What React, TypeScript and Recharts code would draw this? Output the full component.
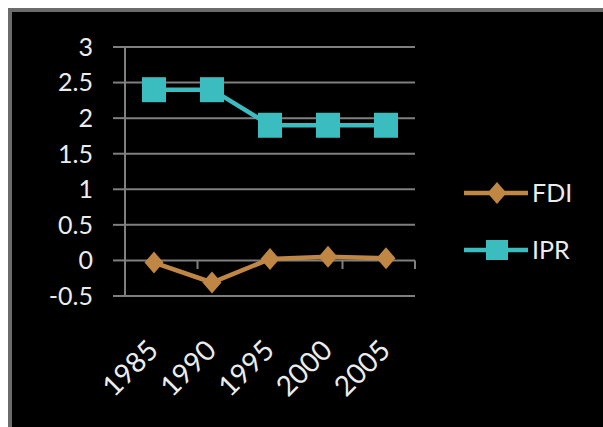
import React from 'react';
import { LineChart, Line, XAxis, YAxis, CartesianGrid, Legend, ReferenceLine } from 'recharts';

const years = ['1985', '1990', '1995', '2000', '2005'];
const fdiValues = [-0.03, -0.31, 0.02, 0.05, 0.03];
const iprValues = [2.4, 2.4, 1.9, 1.9, 1.9];
const yTicks = [-0.5, 0, 0.5, 1, 1.5, 2, 2.5, 3];
// category boundaries, where Excel draws the small tick marks on the zero line
const boundaries = [1, 2, 3, 4, 5];

const FDI_COLOR = '#bf8644';
const IPR_COLOR = '#3bbcbe';
const GRID = '#7f7f7f';
const TEXT = '#ececec';
const FONT = 'Lato, "Open Sans", sans-serif';

const data = years.map((year, i) => ({ year, FDI: fdiValues[i], IPR: iprValues[i] }));

const Diamond = ({ cx, cy, fill }: any) => {
  if (cx == null || cy == null) return null;
  return <path d={`M${cx},${cy - 11} L${cx + 9.5},${cy} L${cx},${cy + 11} L${cx - 9.5},${cy} Z`} fill={fill} />;
};

const Square = ({ cx, cy, fill }: any) => {
  if (cx == null || cy == null) return null;
  return <rect x={cx - 12} y={cy - 12.5} width={24} height={25} fill={fill} />;
};

const RotatedTick = ({ x, y, payload }: any) => (
  <g transform={`translate(${x + 6},${y + 48})`}>
    <text textAnchor="end" transform="rotate(-45)" fill={TEXT} fontSize={28} fontFamily={FONT}>
      {payload.value}
    </text>
  </g>
);

const series = [
  { name: 'FDI', color: FDI_COLOR, marker: 'diamond' },
  { name: 'IPR', color: IPR_COLOR, marker: 'square' },
];

const LegendContent = () => (
  <div style={{ fontFamily: FONT }}>
    {series.map((s) => (
      <div key={s.name} style={{ display: 'flex', alignItems: 'center', height: 57 }}>
        <svg width={66} height={30}>
          <line x1={1} y1={15} x2={65} y2={15} stroke={s.color} strokeWidth={4.5} />
          {s.marker === 'diamond' ? (
            <Diamond cx={34} cy={15} fill={s.color} />
          ) : (
            <rect x={23} y={5} width={22} height={20} fill={s.color} />
          )}
        </svg>
        <span style={{ color: TEXT, fontSize: 25, marginLeft: 3, lineHeight: 1 }}>{s.name}</span>
      </div>
    ))}
  </div>
);

export default function App() {
  return (
    <div
      style={{
        position: 'absolute',
        left: 8,
        top: 8,
        width: 591,
        height: 415,
        background: '#000',
        borderTop: '4px solid #6b6b6b',
        borderLeft: '4px solid #6b6b6b',
      }}
    >
      <LineChart
        width={591}
        height={415}
        data={data}
        margin={{ top: 35, right: 188, bottom: 31, left: 0 }}
        style={{ fontFamily: FONT }}
      >
        <CartesianGrid vertical={false} stroke={GRID} strokeWidth={2} />
        <XAxis
          dataKey="year"
          scale="band"
          interval={0}
          axisLine={false}
          tickLine={false}
          height={100}
          tick={<RotatedTick />}
        />
        <XAxis xAxisId="b" type="number" domain={[0, 5]} hide />
        <YAxis
          domain={[-0.5, 3]}
          ticks={yTicks}
          interval={0}
          width={113}
          tickSize={12}
          tickMargin={20}
          axisLine={{ stroke: GRID, strokeWidth: 2 }}
          tickLine={{ stroke: GRID, strokeWidth: 2 }}
          tick={{ fill: TEXT, fontSize: 25, fontFamily: FONT }}
        />
        {boundaries.map((b) => (
          <ReferenceLine
            key={b}
            xAxisId="b"
            segment={[{ x: b, y: 0 }, { x: b, y: -0.12 }]}
            stroke={GRID}
            strokeWidth={2}
          />
        ))}
        <Legend
          layout="horizontal"
          verticalAlign="middle"
          content={<LegendContent />}
          wrapperStyle={{ left: 451, top: 152, width: 140 }}
        />
        <Line
          dataKey="FDI"
          stroke={FDI_COLOR}
          strokeWidth={4.5}
          dot={<Diamond fill={FDI_COLOR} />}
          isAnimationActive={false}
        />
        <Line
          dataKey="IPR"
          stroke={IPR_COLOR}
          strokeWidth={4.5}
          dot={<Square fill={IPR_COLOR} />}
          isAnimationActive={false}
        />
      </LineChart>
    </div>
  );
}
